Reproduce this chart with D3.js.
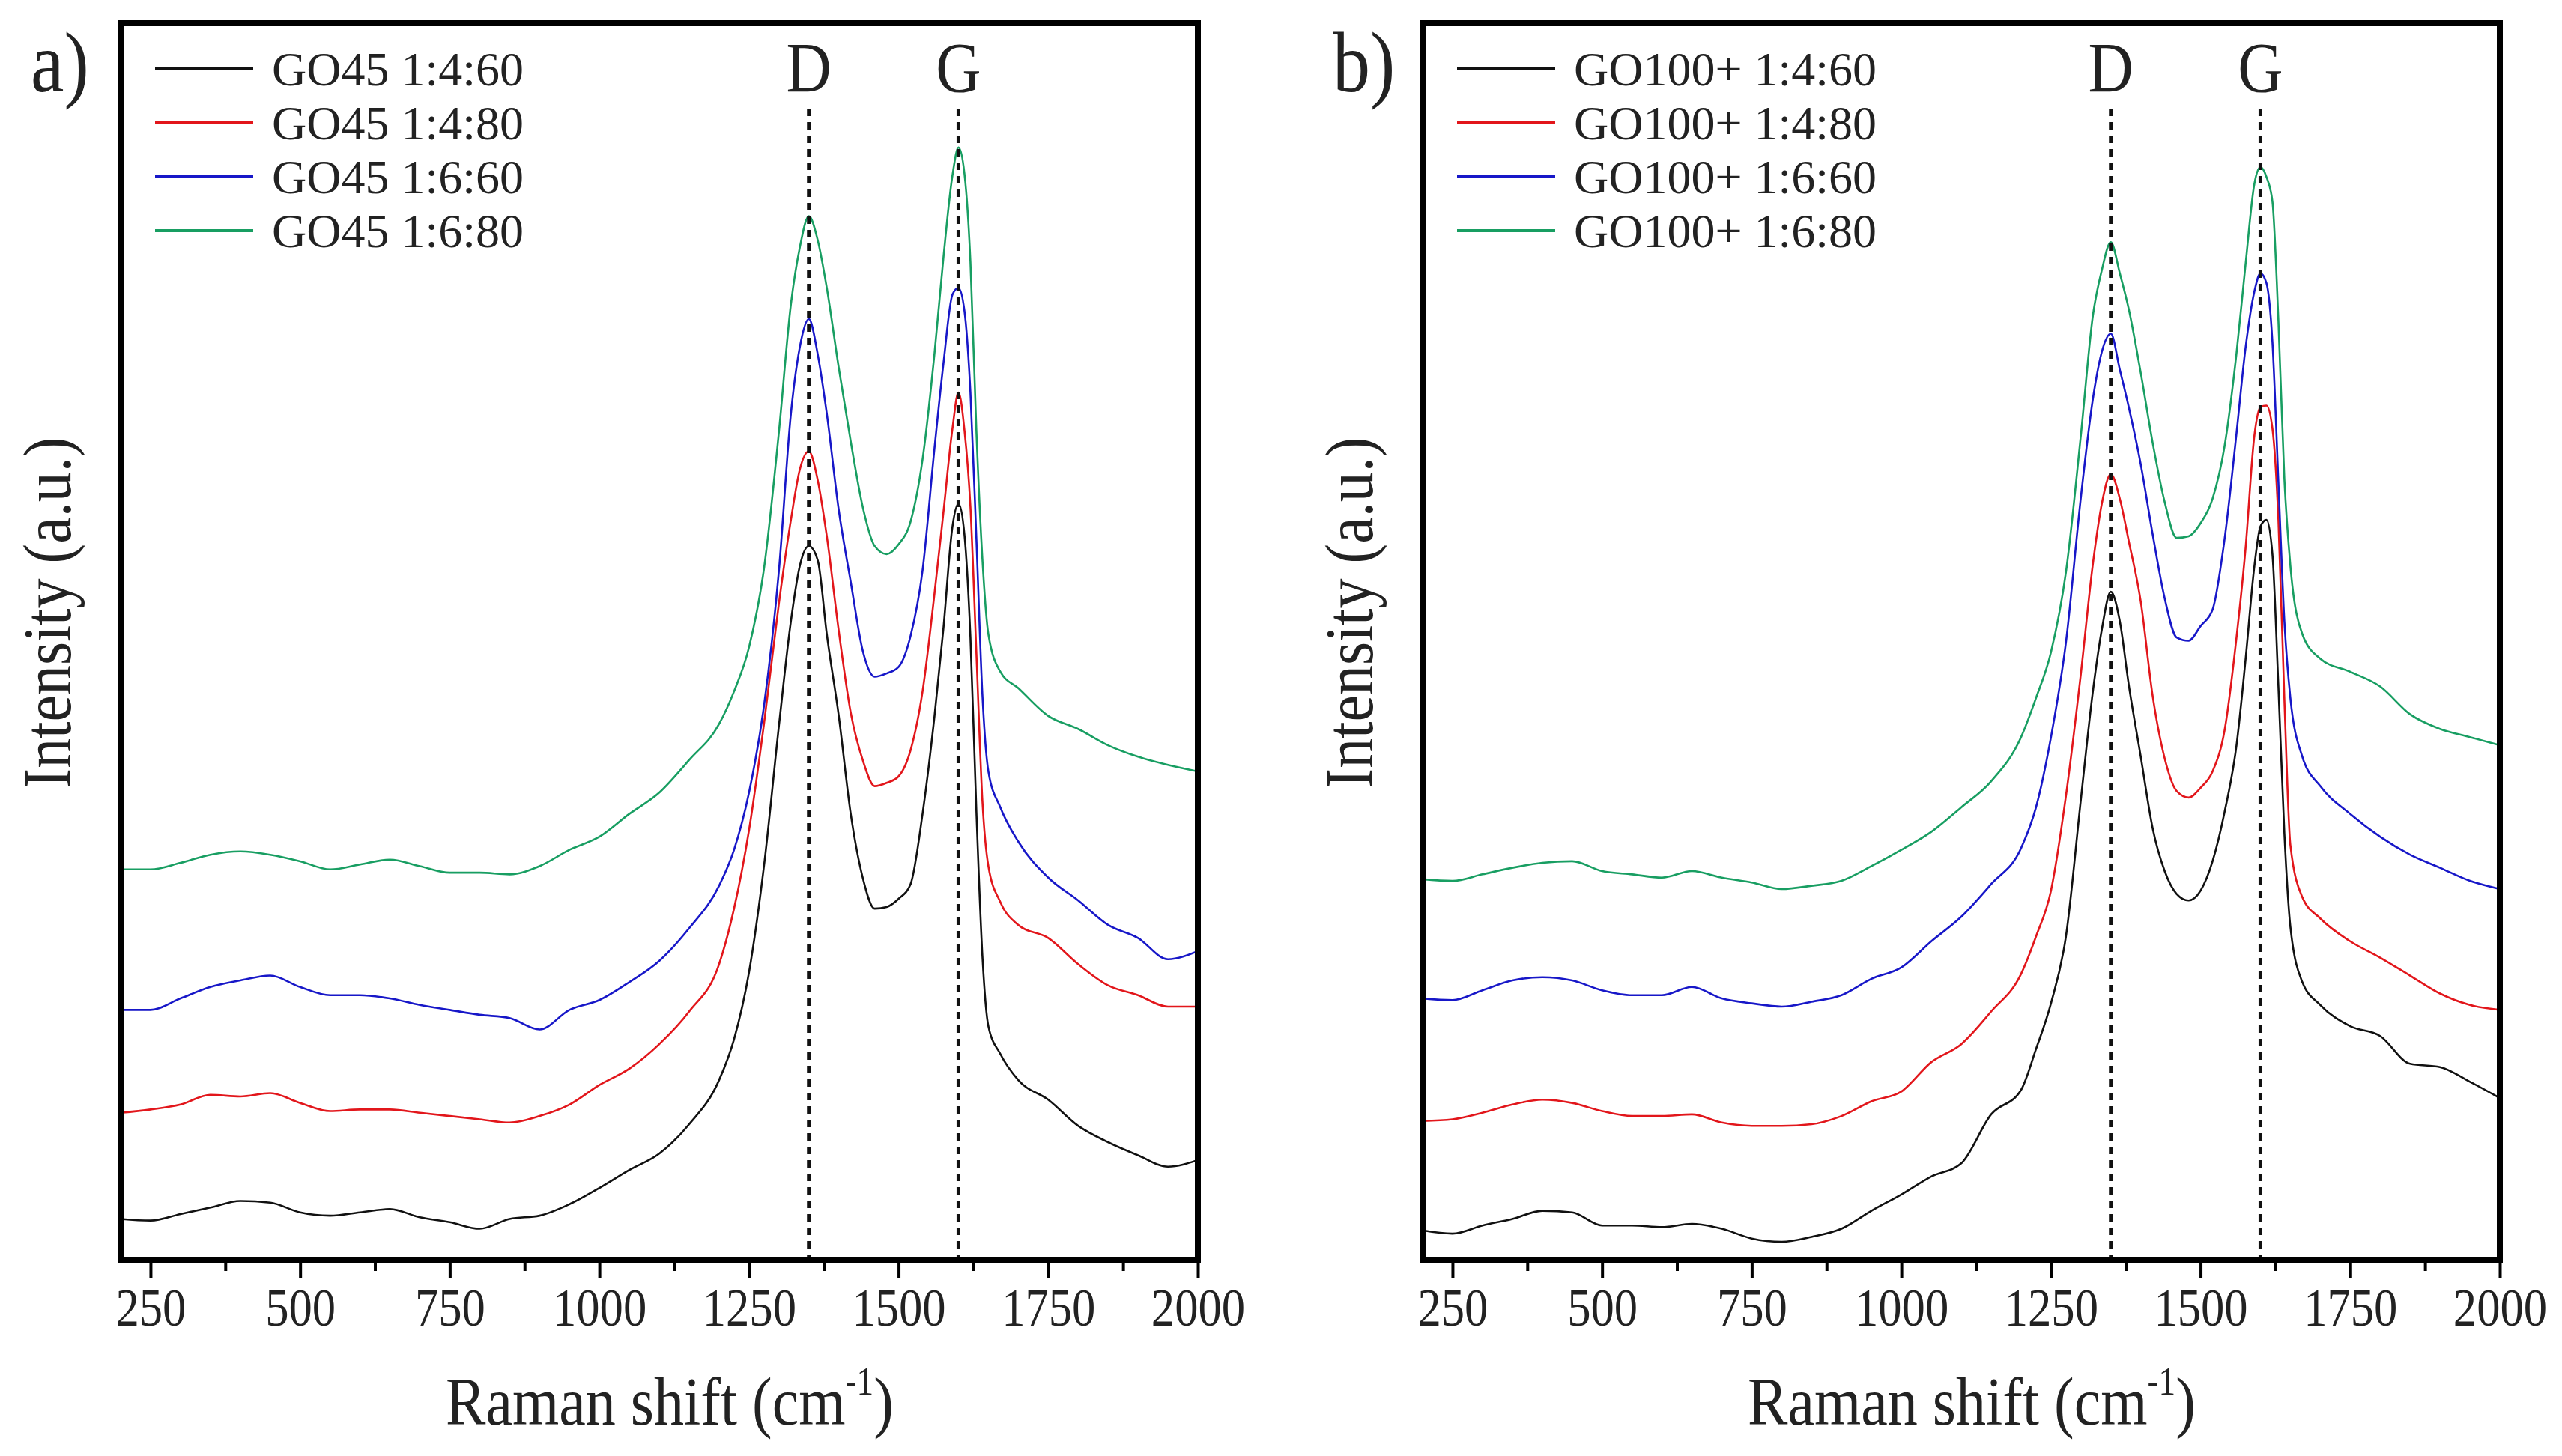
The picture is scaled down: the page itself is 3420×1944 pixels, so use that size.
<!DOCTYPE html>
<html>
<head>
<meta charset="utf-8">
<script src="https://cdn.jsdelivr.net/npm/d3@7"></script>
<style>
  body { margin: 0; background: #fff; }
  text { font-family: "Liberation Serif", "Times New Roman", serif; fill: #222; }
</style>
</head>
<body>
<div id="chart"></div>
<script>
// raman shift grid (cm-1), shared by every spectrum
const shift = [200,250,300,350,400,450,500,550,600,650,700,750,800,850,900,950,1000,1050,1100,1150,
  1200,1225,1250,1275,1300,1320,1335,1350,1365,1380,1400,1420,1440,1460,1480,1500,1520,1540,
  1560,1575,1590,1600,1610,1620,1630,1640,1650,1670,1700,1750,1800,1850,1900,1950,2000];

// panel a - GO45 (stacked intensity, a.u.)
const go45_460 = [25,24,28,32,36,35,29,27,29,31,26,23,19,25,27,34,44,55,65,83,110,135,176,241,327,391,425,437,428,383,333,273,234,215,216,221,230,273,333,387,449,463,444,381,274,186,143,126,110,98,82,72,64,57,61];
const go45_480 = [90,92,95,101,100,102,96,91,92,92,90,88,86,84,88,95,107,117,132,152,181,215,263,328,402,453,484,495,477,443,385,335,306,290,292,296,312,348,408,458,509,531,508,461,371,281,241,219,205,197,181,168,162,155,155];
const go45_660 = [153,153,160,167,171,174,167,162,162,160,156,153,150,148,141,153,159,170,183,203,229,251,286,339,422,518,559,576,554,518,459,415,373,357,359,363,382,422,497,549,591,595,581,531,441,346,299,277,256,234,220,205,197,184,189];
const go45_680 = [239,239,243,248,250,248,244,239,242,245,241,237,237,236,241,251,259,273,286,306,328,348,375,423,507,585,620,639,624,595,546,501,461,437,432,438,452,490,555,614,664,681,665,611,507,429,383,360,350,333,325,315,308,303,299];

// panel b - GO100+
const go100_460 = [18,16,21,25,30,29,21,21,20,22,19,13,11,14,19,30,40,51,59,89,104,129,157,198,282,348,386,409,391,352,308,264,238,224,220,226,244,274,315,367,425,449,453,432,351,261,204,170,156,143,137,120,118,109,99];
const go100_480 = [85,86,90,95,98,96,91,88,88,89,84,82,82,83,88,97,103,121,132,152,175,198,226,284,359,426,463,481,466,440,403,345,307,287,283,289,299,324,381,435,505,522,523,509,453,343,254,222,209,195,185,174,163,156,153];
const go100_660 = [160,159,165,171,173,171,165,162,162,167,160,157,155,158,162,172,179,195,210,230,252,277,320,378,467,527,556,567,545,522,487,444,405,381,379,388,398,441,506,558,593,604,598,562,476,391,344,308,290,273,259,248,240,232,227];
const go100_680 = [233,232,236,240,243,244,238,236,234,238,234,231,227,229,232,241,251,262,277,293,320,344,372,421,505,578,606,623,604,582,543,500,464,442,443,451,466,498,555,609,659,669,663,648,575,478,425,383,368,360,351,334,325,320,315];

const namesA = ["GO45 1:4:60", "GO45 1:4:80", "GO45 1:6:60", "GO45 1:6:80"];
const namesB = ["GO100+ 1:4:60", "GO100+ 1:4:80", "GO100+ 1:6:60", "GO100+ 1:6:80"];
const colors = ["#111111", "#e2161b", "#1717c8", "#189e62"];
const peaks = [{name: "D", pos: 1350}, {name: "G", pos: 1600}];
const majorTicks = [250,500,750,1000,1250,1500,1750,2000];
const minorTicks = [375,625,875,1125,1375,1625,1875];

const W = 3420, H = 1944;
const svg = d3.select("#chart").append("svg").attr("width", W).attr("height", H);

const panels = [
  {left: 161, tag: "a)", names: namesA, series: [go45_460, go45_480, go45_660, go45_680]},
  {left: 1899, tag: "b)", names: namesB, series: [go100_460, go100_480, go100_660, go100_680]}
];

const pw = 1438, plotTop = 31, plotBottom = 1682;
const SX = 0.87; // narrow times look

// text helper, squeezed horizontally
function label(g, x, y, str, size, anchor, rot, sx) {
  return g.append("text")
    .attr("transform", `translate(${x},${y})` + (rot ? ` rotate(${rot})` : "") + ` scale(${sx || SX},1)`)
    .attr("font-size", size)
    .attr("text-anchor", anchor || "start")
    .text(str);
}

panels.forEach((p, pi) => {
  const g = svg.append("g");
  const x = d3.scaleLinear().domain([200, 2000]).range([p.left, p.left + pw]);
  const y = d3.scaleLinear().domain([0, 758]).range([plotBottom, 29]);

  g.append("clipPath").attr("id", "clip" + pi)
    .append("rect").attr("x", p.left).attr("y", plotTop).attr("width", pw).attr("height", plotBottom - plotTop);

  const line = d3.line().x(d => x(d[0])).y(d => y(d[1])).curve(d3.curveMonotoneX);

  g.append("g").attr("clip-path", `url(#clip${pi})`)
    .selectAll("path")
    .data(p.series)
    .enter()
    .append("path")
    .attr("d", s => line(d3.zip(shift, s)))
    .attr("fill", "none")
    .attr("stroke", (d, i) => colors[i])
    .attr("stroke-width", 2.6)
    .attr("stroke-linejoin", "round");

  // D and G markers
  peaks.forEach(pk => {
    g.append("path")
      .attr("d", `M ${x(pk.pos)} 145 V ${plotBottom}`)
      .attr("stroke", "#111")
      .attr("stroke-width", 5)
      .attr("stroke-dasharray", "10,8");
    label(g, x(pk.pos), 123, pk.name, 96, "middle");
  });

  // frame
  g.append("rect")
    .attr("x", p.left).attr("y", plotTop)
    .attr("width", pw).attr("height", plotBottom - plotTop)
    .attr("fill", "none").attr("stroke", "#000").attr("stroke-width", 8);

  // bottom axis
  const ax = g.append("g").attr("transform", `translate(0,${plotBottom + 4})`)
    .call(d3.axisBottom(x).tickValues(majorTicks).tickSize(21).tickFormat(d3.format("d")));
  ax.select(".domain").remove();
  ax.selectAll(".tick line").attr("stroke", "#000").attr("stroke-width", 4);
  ax.selectAll(".tick text")
    .attr("y", 84).attr("dy", 0)
    .attr("font-size", 72)
    .attr("font-family", "Liberation Serif, serif")
    .attr("fill", "#222")
    .attr("transform", `scale(${SX},1)`);

  const mx = g.append("g").attr("transform", `translate(0,${plotBottom + 4})`)
    .call(d3.axisBottom(x).tickValues(minorTicks).tickSize(11).tickFormat(""));
  mx.select(".domain").remove();
  mx.selectAll(".tick line").attr("stroke", "#000").attr("stroke-width", 4);

  // axis titles
  const xt = g.append("text")
    .attr("transform", `translate(${p.left + pw / 2 + 14},1902) scale(${SX},1)`)
    .attr("font-size", 92)
    .attr("text-anchor", "middle");
  xt.append("tspan").text("Raman shift (cm");
  xt.append("tspan").attr("font-size", 52).attr("dy", -40).text("-1");
  xt.append("tspan").attr("dy", 40).text(")");

  label(g, p.left - 67, 818, "Intensity (a.u.)", 92, "middle", -90);

  // panel tag
  label(g, p.left - 120, 122, p.tag, 115, "start");

  // legend
  p.names.forEach((nm, i) => {
    const ly = 92 + 72 * i;
    g.append("path")
      .attr("d", `M ${p.left + 46} ${ly} H ${p.left + 177}`)
      .attr("stroke", colors[i])
      .attr("stroke-width", 4);
    label(g, p.left + 202, ly + 22, nm, 64, "start", 0, 1);
  });
});
</script>
</body>
</html>
